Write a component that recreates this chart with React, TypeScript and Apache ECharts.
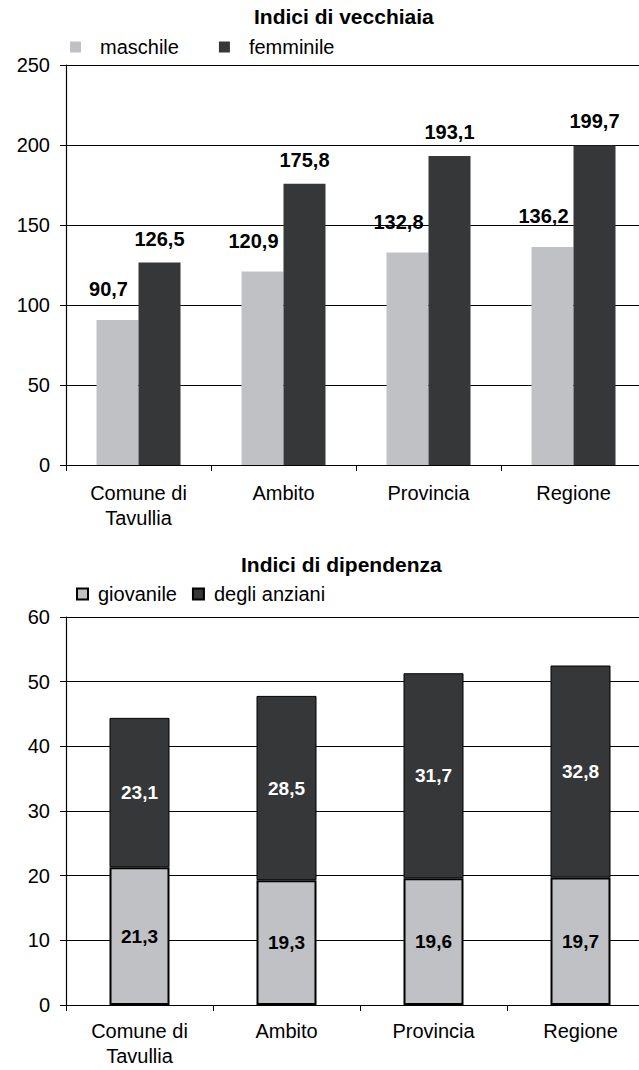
import React, { useEffect, useRef } from "react";
import * as echarts from "echarts";

const categories = ["Comune di Tavullia", "Ambito", "Provincia", "Regione"];
const maschile = [90.7, 120.9, 132.8, 136.2];
const femminile = [126.5, 175.8, 193.1, 199.7];
const giovanile = [21.3, 19.3, 19.6, 19.7];
const anziani = [23.1, 28.5, 31.7, 32.8];
const title1 = "Indici di vecchiaia";
const title2 = "Indici di dipendenza";
const legend1 = ["maschile", "femminile"];
const legend2 = ["giovanile", "degli anziani"];
const yMax1 = 250;
const yStep1 = 50;
const yMax2 = 60;
const yStep2 = 10;

const FONT = '"Liberation Sans", Arial, sans-serif';
const LIGHT = "#bfc1c5";
const DARK = "#363739";

const fmt = (p: any) => Number(p.value).toFixed(1).replace(".", ",");
const catFmt = (v: string) => v.replace(" Tavullia", "\nTavullia");

export default function App() {
  const ref = useRef<HTMLDivElement>(null);
  useEffect(() => {
    if (!ref.current) return;
    const chart = echarts.init(ref.current, null, { renderer: "svg" });
    const axisLine = { show: true, lineStyle: { color: "#000", width: 1.2 } };
    const xAxisCommon = (gi: number, margin: number) => ({
      type: "category",
      gridIndex: gi,
      data: categories,
      axisLine,
      axisTick: { show: true, length: 6, lineStyle: { color: "#000", width: 1 } },
      axisLabel: {
        margin,
        fontSize: 20,
        color: "#000",
        lineHeight: 25,
        fontFamily: FONT,
        formatter: catFmt,
      },
      splitLine: { show: false },
    });
    const yAxisCommon = (gi: number, max: number, step: number) => ({
      type: "value",
      gridIndex: gi,
      min: 0,
      max,
      interval: step,
      axisLine,
      axisTick: { show: true, length: 6, lineStyle: { color: "#000", width: 1 } },
      axisLabel: { margin: 16, fontSize: 20, color: "#000", fontFamily: FONT },
      splitLine: { show: true, lineStyle: { color: "#000", width: 1 } },
    });
    const option: any = {
      animation: false,
      textStyle: { fontFamily: FONT },
      title: [
        {
          text: title1,
          left: 254,
          top: 6,
          padding: 0,
          textStyle: { fontSize: 21, fontWeight: "bold", color: "#000", fontFamily: FONT },
        },
        {
          text: title2,
          left: 241,
          top: 554,
          padding: 0,
          textStyle: { fontSize: 21, fontWeight: "bold", color: "#000", fontFamily: FONT },
        },
      ],
      legend: [
        {
          data: legend1,
          left: 70,
          top: 37,
          padding: 0,
          itemWidth: 11,
          itemHeight: 11,
          itemGap: 40,
          icon: "rect",
          textStyle: { fontSize: 20, color: "#000", fontFamily: FONT, padding: [0, 0, 0, 14] },
        },
        {
          data: legend2,
          left: 76,
          top: 584,
          padding: 0,
          itemWidth: 11,
          itemHeight: 11,
          itemGap: 15,
          icon: "rect",
          textStyle: { fontSize: 20, color: "#000", fontFamily: FONT, padding: [0, 0, 0, 5] },
        },
      ],
      grid: [
        { left: 66, top: 65, width: 580, height: 400, outerBoundsMode: "none" },
        { left: 66, top: 617, width: 588, height: 388, outerBoundsMode: "none" },
      ],
      xAxis: [xAxisCommon(0, 15), xAxisCommon(1, 13)],
      yAxis: [yAxisCommon(0, yMax1, yStep1), yAxisCommon(1, yMax2, yStep2)],
      series: [
        {
          name: legend1[0],
          type: "bar",
          xAxisIndex: 0,
          yAxisIndex: 0,
          data: maschile,
          barWidth: 42,
          barGap: "0%",
          itemStyle: { color: LIGHT },
          label: {
            show: true,
            position: "top",
            distance: 21,
            offset: [-9, 0],
            fontSize: 20,
            fontWeight: "bold",
            color: "#000",
            fontFamily: FONT,
            formatter: fmt,
          },
        },
        {
          name: legend1[1],
          type: "bar",
          xAxisIndex: 0,
          yAxisIndex: 0,
          data: femminile,
          barWidth: 42,
          barGap: "0%",
          itemStyle: { color: DARK },
          label: {
            show: true,
            position: "top",
            distance: 14,
            fontSize: 20,
            fontWeight: "bold",
            color: "#000",
            fontFamily: FONT,
            formatter: fmt,
          },
        },
        {
          name: legend2[0],
          type: "bar",
          stack: "dip",
          xAxisIndex: 1,
          yAxisIndex: 1,
          data: giovanile,
          barWidth: 60,
          itemStyle: { color: LIGHT, borderColor: "#000", borderWidth: 2 },
          label: {
            show: true,
            position: "inside",
            fontSize: 19,
            fontWeight: "bold",
            color: "#000",
            fontFamily: FONT,
            formatter: fmt,
          },
        },
        {
          name: legend2[1],
          type: "bar",
          stack: "dip",
          xAxisIndex: 1,
          yAxisIndex: 1,
          data: anziani,
          barWidth: 60,
          itemStyle: { color: DARK, borderColor: "#000", borderWidth: 1 },
          label: {
            show: true,
            position: "inside",
            fontSize: 19,
            fontWeight: "bold",
            color: "#fff",
            fontFamily: FONT,
            formatter: fmt,
          },
        },
      ],
    };
    chart.setOption(option);
    return () => chart.dispose();
  }, []);
  return (
    <div
      ref={ref}
      style={{ position: "absolute", left: 0, top: 0, width: 639, height: 1070, background: "#fff" }}
    />
  );
}
